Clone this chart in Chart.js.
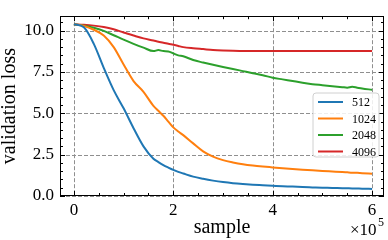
<!DOCTYPE html>
<html>
<head>
<meta charset="utf-8">
<script src="https://cdn.jsdelivr.net/npm/chart.js@4.4.0/dist/chart.umd.min.js"></script>
<style>
  html, body { margin: 0; padding: 0; background: #fff; }
  #wrap { width: 388px; height: 240px; }
</style>
</head>
<body>
<div id="wrap"><canvas id="lossChart" width="388" height="240"></canvas></div>
<script>
// Validation loss vs. samples seen, one curve per batch size

// x values in units of 1e5 samples
const samples = [0, 0.2, 0.4, 0.6, 0.8, 1.0, 1.2, 1.4, 1.6, 1.7, 1.8, 1.9, 2.0, 2.1, 2.2, 2.4, 2.6, 2.8,
    3.0, 3.2, 3.4, 3.6, 3.8, 4.0, 4.2, 4.4, 4.6, 4.8, 5.0, 5.2, 5.4, 5.5, 5.6, 5.7, 5.8, 6.0];

const loss512 = [10.38, 10.2, 9.2, 7.75, 6.4, 5.3, 4.1, 3.0, 2.25, 2.05, 1.87, 1.72, 1.58, 1.46, 1.36, 1.17,
    1.04, 0.93, 0.84, 0.77, 0.72, 0.68, 0.65, 0.62, 0.59, 0.57, 0.54, 0.52, 0.5, 0.49, 0.47, 0.465,
    0.46, 0.45, 0.44, 0.43];
const loss1024 = [10.38, 10.28, 10.05, 9.7, 9.0, 7.95, 6.95, 6.3, 5.45, 5.15, 4.85, 4.5, 4.15, 3.9, 3.68, 3.18,
    2.7, 2.38, 2.17, 2.03, 1.92, 1.84, 1.78, 1.73, 1.68, 1.63, 1.59, 1.55, 1.51, 1.48, 1.45, 1.43,
    1.41, 1.4, 1.38, 1.35];
const loss2048 = [10.38, 10.3, 10.17, 9.98, 9.72, 9.45, 9.2, 8.97, 8.76, 8.82, 8.76, 8.74, 8.62, 8.5, 8.45, 8.22,
    8.07, 7.93, 7.8, 7.68, 7.55, 7.42, 7.3, 7.15, 7.05, 6.95, 6.85, 6.76, 6.7, 6.64, 6.58, 6.55,
    6.6, 6.55, 6.5, 6.42];
const loss4096 = [10.38, 10.35, 10.3, 10.22, 10.08, 9.88, 9.7, 9.53, 9.4, 9.33, 9.27, 9.2, 9.14, 9.07, 9.0, 8.93,
    8.88, 8.83, 8.8, 8.78, 8.77, 8.76, 8.76, 8.76, 8.76, 8.76, 8.76, 8.76, 8.76, 8.76, 8.76, 8.76,
    8.76, 8.76, 8.76, 8.76];

const seriesLabels = ['512', '1024', '2048', '4096'];
const seriesColors = ['#1f77b4', '#ff7f0e', '#2ca02c', '#d62728'];

const xTicks = [0, 2, 4, 6];
const xMinorStep = 0.5;
const yTicks = [0, 2.5, 5, 7.5, 10];
const yTickLabels = ['0.0', '2.5', '5.0', '7.5', '10.0'];
const yMinorStep = 0.5;

const serif = "'Liberation Serif', 'DejaVu Serif', serif";

function toPoints(values) {
    return samples.map((x, i) => ({ x: x, y: values[i] }));
}

// dashed grid behind the curves
const gridPlugin = {
    id: 'dashedGrid',
    beforeDatasetsDraw(chart) {
        const { ctx, chartArea, scales } = chart;
        ctx.save();
        ctx.strokeStyle = '#8f8f8f';
        ctx.lineWidth = 1;
        ctx.setLineDash([4, 2]);
        xTicks.forEach(v => {
            const px = Math.round(scales.x.getPixelForValue(v)) + 0.5;
            ctx.beginPath();
            ctx.moveTo(px, chartArea.top);
            ctx.lineTo(px, chartArea.bottom);
            ctx.stroke();
        });
        yTicks.forEach(v => {
            const py = Math.round(scales.y.getPixelForValue(v)) + 0.5;
            ctx.beginPath();
            ctx.moveTo(chartArea.left, py);
            ctx.lineTo(chartArea.right, py);
            ctx.stroke();
        });
        ctx.restore();
    }
};

// frame, inward ticks, offset text and legend on top
const framePlugin = {
    id: 'frameAndLegend',
    afterDraw(chart) {
        const { ctx, chartArea, scales } = chart;
        const { left, right, top, bottom } = chartArea;
        ctx.save();
        ctx.strokeStyle = '#000';
        ctx.lineWidth = 1;
        ctx.setLineDash([]);

        const tick = (x1, y1, x2, y2) => {
            ctx.beginPath();
            ctx.moveTo(x1, y1);
            ctx.lineTo(x2, y2);
            ctx.stroke();
        };

        // x ticks, top and bottom
        for (let v = Math.ceil(scales.x.min / xMinorStep) * xMinorStep; v <= scales.x.max; v += xMinorStep) {
            const major = xTicks.some(t => Math.abs(t - v) < 1e-6);
            const len = major ? 5 : 3;
            const px = Math.round(scales.x.getPixelForValue(v)) + 0.5;
            tick(px, bottom, px, bottom - len);
            tick(px, top, px, top + len);
        }
        // y ticks, left and right
        for (let v = Math.ceil(scales.y.min / yMinorStep) * yMinorStep; v <= scales.y.max; v += yMinorStep) {
            const major = yTicks.some(t => Math.abs(t - v) < 1e-6);
            const len = major ? 5 : 3;
            const py = Math.round(scales.y.getPixelForValue(v)) + 0.5;
            tick(left, py, left + len, py);
            tick(right, py, right - len, py);
        }

        ctx.strokeRect(Math.round(left) + 0.5, Math.round(top) + 0.5,
            Math.round(right - left) - 1, Math.round(bottom - top) - 1);

        // x10^5 offset text
        ctx.fillStyle = '#000';
        ctx.textBaseline = 'alphabetic';
        ctx.textAlign = 'left';
        ctx.font = '17px ' + serif;
        ctx.fillText('\u00d710', 350, 235);
        ctx.font = '12px ' + serif;
        ctx.fillText('5', 378, 226);

        // legend
        const bx = 313, by = 93, bw = 66, bh = 64, r = 3;
        ctx.beginPath();
        ctx.moveTo(bx + r, by);
        ctx.arcTo(bx + bw, by, bx + bw, by + bh, r);
        ctx.arcTo(bx + bw, by + bh, bx, by + bh, r);
        ctx.arcTo(bx, by + bh, bx, by, r);
        ctx.arcTo(bx, by, bx + bw, by, r);
        ctx.closePath();
        ctx.fillStyle = 'rgba(255,255,255,0.85)';
        ctx.fill();
        ctx.strokeStyle = '#d0d0d0';
        ctx.stroke();

        ctx.font = '12px ' + serif;
        ctx.textBaseline = 'middle';
        chart.data.datasets.forEach((ds, i) => {
            const cy = 102 + i * 16.5;
            ctx.strokeStyle = ds.borderColor;
            ctx.lineWidth = 2;
            ctx.beginPath();
            ctx.moveTo(318, cy);
            ctx.lineTo(343, cy);
            ctx.stroke();
            ctx.fillStyle = '#000';
            ctx.fillText(ds.label, 352, cy + 1);
        });
        ctx.restore();
    }
};

const datasets = [loss512, loss1024, loss2048, loss4096].map((values, i) => ({
    label: seriesLabels[i],
    data: toPoints(values),
    borderColor: seriesColors[i],
    backgroundColor: seriesColors[i],
    borderWidth: 2,
    pointRadius: 0,
    fill: false,
    cubicInterpolationMode: 'monotone'
}));

new Chart(document.getElementById('lossChart'), {
    type: 'line',
    data: { datasets: datasets },
    options: {
        responsive: false,
        animation: false,
        devicePixelRatio: 1,
        layout: { padding: { top: 2, right: 4, left: 0, bottom: 0 } },
        plugins: {
            legend: { display: false },
            tooltip: { enabled: false }
        },
        scales: {
            x: {
                type: 'linear',
                min: -0.28,
                max: 6.24,
                afterFit: scale => { scale.height = 44; },
                afterBuildTicks: scale => { scale.ticks = xTicks.map(v => ({ value: v })); },
                grid: { display: false, drawTicks: false },
                border: { display: false },
                ticks: {
                    padding: 4,
                    color: '#000',
                    font: { family: serif, size: 17 },
                    callback: value => String(value)
                },
                title: {
                    display: true,
                    text: 'sample',
                    color: '#000',
                    font: { family: serif, size: 20 },
                    padding: { top: 0, bottom: 0 }
                }
            },
            y: {
                min: 0,
                max: 10.87,
                afterFit: scale => { scale.width = 60; },
                afterBuildTicks: scale => { scale.ticks = yTicks.map(v => ({ value: v })); },
                grid: { display: false, drawTicks: false },
                border: { display: false },
                ticks: {
                    padding: 6,
                    color: '#000',
                    font: { family: serif, size: 17 },
                    callback: value => yTickLabels[yTicks.indexOf(value)]
                },
                title: {
                    display: true,
                    text: 'validation loss',
                    color: '#000',
                    font: { family: serif, size: 20, lineHeight: 1 },
                    padding: { top: 0, bottom: 0 }
                }
            }
        }
    },
    plugins: [gridPlugin, framePlugin]
});
</script>
</body>
</html>
